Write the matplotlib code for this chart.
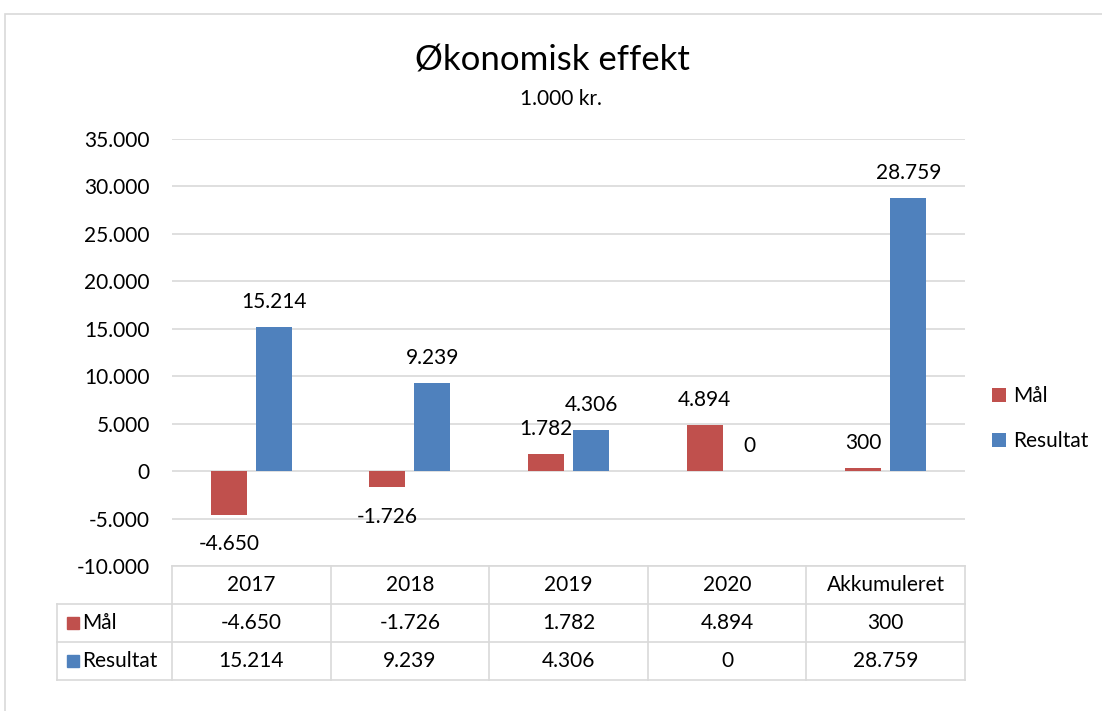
import matplotlib
matplotlib.use("Agg")
import matplotlib.pyplot as plt
from matplotlib.patches import Rectangle

categories = ["2017", "2018", "2019", "2020", "Akkumuleret"]
maal = [-4650, -1726, 1782, 4894, 300]
resultat = [15214, 9239, 4306, 0, 28759]
yticks = [-10000, -5000, 0, 5000, 10000, 15000, 20000, 25000, 30000, 35000]

RED = "#C0504D"
BLUE = "#4F81BD"
GRID = "#D9D9D9"
FS = 15

plt.rcParams["font.family"] = ["Lato", "DejaVu Sans"]


def fmt(v):
    return f"{v:,.0f}".replace(",", ".")


def main():
    W, H = 1102, 711
    fig = plt.figure(figsize=(W / 100, H / 100), dpi=100)

    # outer chart frame
    fig.patches.append(Rectangle((5 / W, -0.1), 1.2, 1.1 - 14 / H, transform=fig.transFigure,
                                 fill=False, edgecolor=GRID, lw=1.2))

    # plot area (pixel coords)
    left, right, top, bottom = 172, 965, 139, 566
    ax = fig.add_axes([left / W, 1 - bottom / H, (right - left) / W, (bottom - top) / H])
    x = list(range(len(categories)))
    w = 0.227
    off = 0.142
    ax.bar([i - off for i in x], maal, width=w, color=RED, label="Mål", zorder=3)
    ax.bar([i + off for i in x], resultat, width=w, color=BLUE, label="Resultat", zorder=3)

    for i, v in enumerate(maal):
        dy = 18 if v >= 0 else -21
        ax.annotate(fmt(v), (i - off, v), xytext=(0, dy), textcoords="offset points",
                    ha="center", va="center", fontsize=FS)
    for i, v in enumerate(resultat):
        dy = 18 if v >= 0 else -21
        ax.annotate(fmt(v), (i + off, v), xytext=(0, dy), textcoords="offset points",
                    ha="center", va="center", fontsize=FS)

    ax.set_xlim(-0.5, len(categories) - 0.5)
    ax.set_ylim(-10000, 35000)
    ax.set_yticks(yticks)
    ax.set_yticklabels([fmt(t) for t in yticks], fontsize=FS)
    ax.set_xticks([])
    ax.tick_params(axis="y", length=0, pad=16)
    ax.grid(axis="y", color=GRID, lw=1.2, zorder=0)
    for s in ax.spines.values():
        s.set_visible(False)

    # data table
    tleft = 57
    unit = (right - left) / len(categories)
    xl = -0.5 - (left - tleft) / unit
    tax = fig.add_axes([tleft / W, 1 - 680 / H, (right - tleft) / W, (680 - 566) / H])
    tax.set_xlim(xl, len(categories) - 0.5)
    tax.set_ylim(3, 0)
    tax.axis("off")
    n = len(categories)
    tax.plot([-0.5, n - 0.5], [0, 0], color=GRID, lw=1.2, clip_on=False)
    for r in (1, 2, 3):
        tax.plot([xl, n - 0.5], [r, r], color=GRID, lw=1.2, clip_on=False)
    for b in range(n + 1):
        tax.plot([b - 0.5, b - 0.5], [0, 3], color=GRID, lw=1.2, clip_on=False)
    tax.plot([xl, xl], [1, 3], color=GRID, lw=1.2, clip_on=False)

    for i, c in enumerate(categories):
        tax.text(i, 0.5, c, ha="center", va="center", fontsize=FS)
        tax.text(i, 1.5, fmt(maal[i]), ha="center", va="center", fontsize=FS)
        tax.text(i, 2.5, fmt(resultat[i]), ha="center", va="center", fontsize=FS)

    sq = 12 / unit
    for r, (name, col) in enumerate([("Mål", RED), ("Resultat", BLUE)], start=1):
        x0 = xl + 10 / unit
        tax.add_patch(Rectangle((x0, r + 0.5 - 0.17), sq, 0.34, color=col, clip_on=False))
        tax.text(xl + 25 / unit, r + 0.5, name, ha="left", va="center", fontsize=FS)

    # legend
    ax.legend(loc="center left", bbox_to_anchor=(1.01, 0.345), frameon=False, fontsize=FS,
              handlelength=0.7, handleheight=0.7, handletextpad=0.35, labelspacing=1.2)

    fig.text(552 / W, 1 - 60 / H, "Økonomisk effekt", ha="center", va="center", fontsize=25)
    fig.text(561 / W, 1 - 99 / H, "1.000 kr.", ha="center", va="center", fontsize=FS)

    fig.savefig("out.png", dpi=100)
    plt.close(fig)


if __name__ == "__main__":
    main()
